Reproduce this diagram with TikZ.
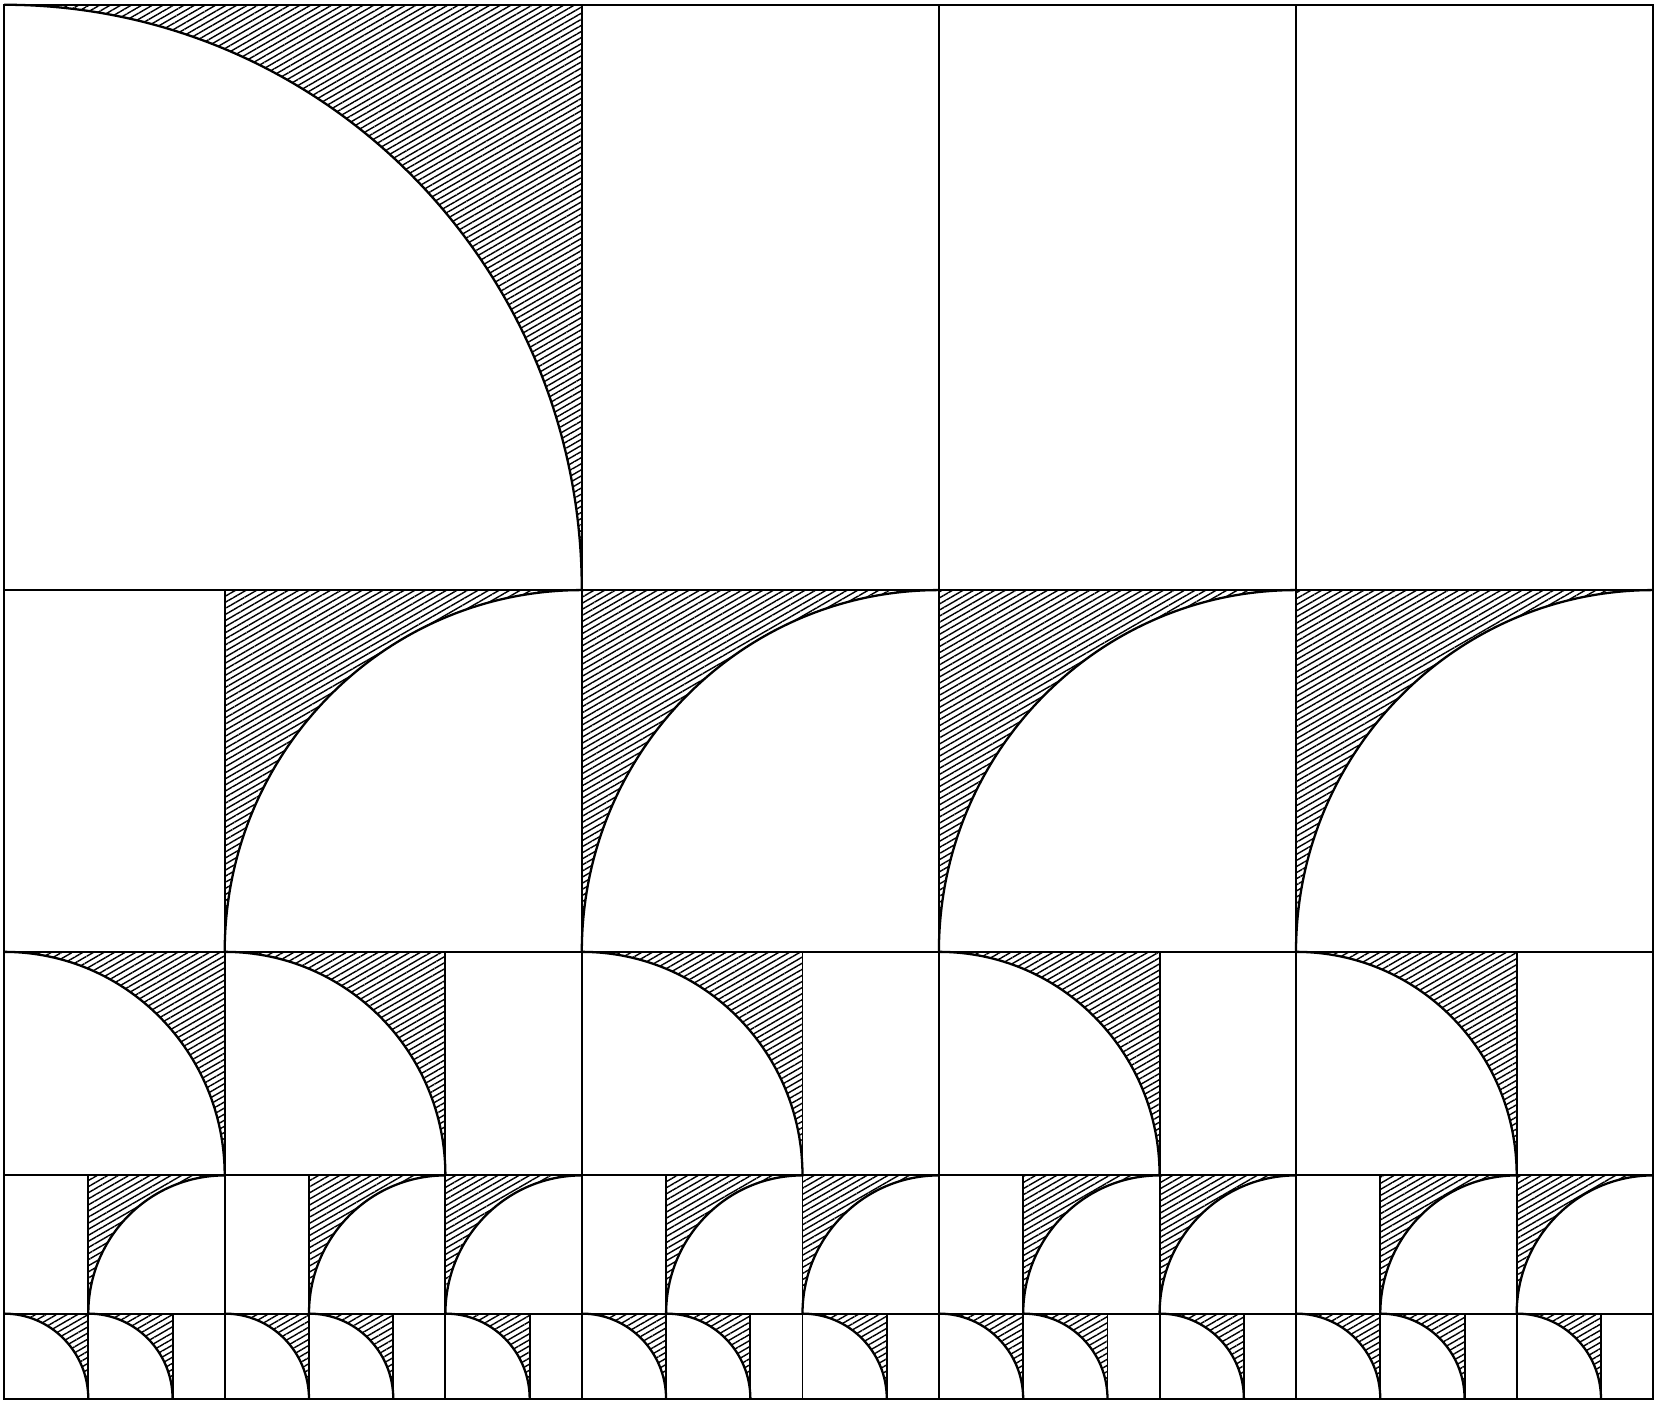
\documentclass[tikz,border=0pt]{standalone}
\usetikzlibrary{patterns.meta}
\tikzset{
    cellbox/.style={draw=black, line width=0.55pt},
    arcline/.style={draw=black, line width=0.65pt},
    hatch/.style={pattern={Lines[angle=30, distance=1.5pt, line width=0.4pt]}},
}
% quarter cell, arc centred bottom left: x, y, side
\newcommand{\qconvex}[3]{%
    \path[hatch] (#1+#3,#2) arc[start angle=0, end angle=90, radius=#3] -- (#1+#3,#2+#3) -- cycle;
    \draw[arcline] (#1+#3,#2) arc[start angle=0, end angle=90, radius=#3];
    \draw[cellbox] (#1,#2) rectangle ++(#3,#3);
}
% quarter cell, arc centred bottom right: x, y, side
\newcommand{\qconcave}[3]{%
    \path[hatch] (#1,#2) arc[start angle=180, end angle=90, radius=#3] -- (#1,#2+#3) -- cycle;
    \draw[arcline] (#1,#2) arc[start angle=180, end angle=90, radius=#3];
    \draw[cellbox] (#1,#2) rectangle ++(#3,#3);
}
% empty cell: x, y, width, height
\newcommand{\blankcell}[4]{\draw[cellbox] (#1,#2) rectangle ++(#3,#4);}

\begin{document}
\begin{tikzpicture}[x=0.843cm, y=0.854cm]
    \useasboundingbox (-0.04cm,-0.03cm) rectangle (16.56cm,13.99cm);

    % Riga alta
    \qconvex{0}{9.472}{6.854}
    \foreach \bx in {6.854, 11.090, 15.326} {\blankcell{\bx}{9.472}{4.236}{6.854}}

    % Striscia sinistra
    \blankcell{0}{5.236}{2.618}{4.236}
    \qconvex{0}{2.618}{2.618}
    \blankcell{0}{1}{1}{1.618}
    \qconcave{1}{1}{1.618}
    \qconvex{0}{0}{1}
    \qconvex{1}{0}{1}
    \blankcell{2}{0}{0.618}{1}

    % Blocchi ripetuti
    \foreach \bx in {2.618, 6.854, 11.090, 15.326} {
        \qconcave{\bx}{5.236}{4.236}
        \qconvex{\bx}{2.618}{2.618}
        \blankcell{\bx+2.618}{2.618}{1.618}{2.618}
        \blankcell{\bx}{1}{1}{1.618}
        \qconcave{\bx+1}{1}{1.618}
        \qconcave{\bx+2.618}{1}{1.618}
        \qconvex{\bx}{0}{1}
        \qconvex{\bx+1}{0}{1}
        \blankcell{\bx+2}{0}{0.618}{1}
        \qconvex{\bx+2.618}{0}{1}
        \blankcell{\bx+3.618}{0}{0.618}{1}
    }
\end{tikzpicture}
\end{document}
